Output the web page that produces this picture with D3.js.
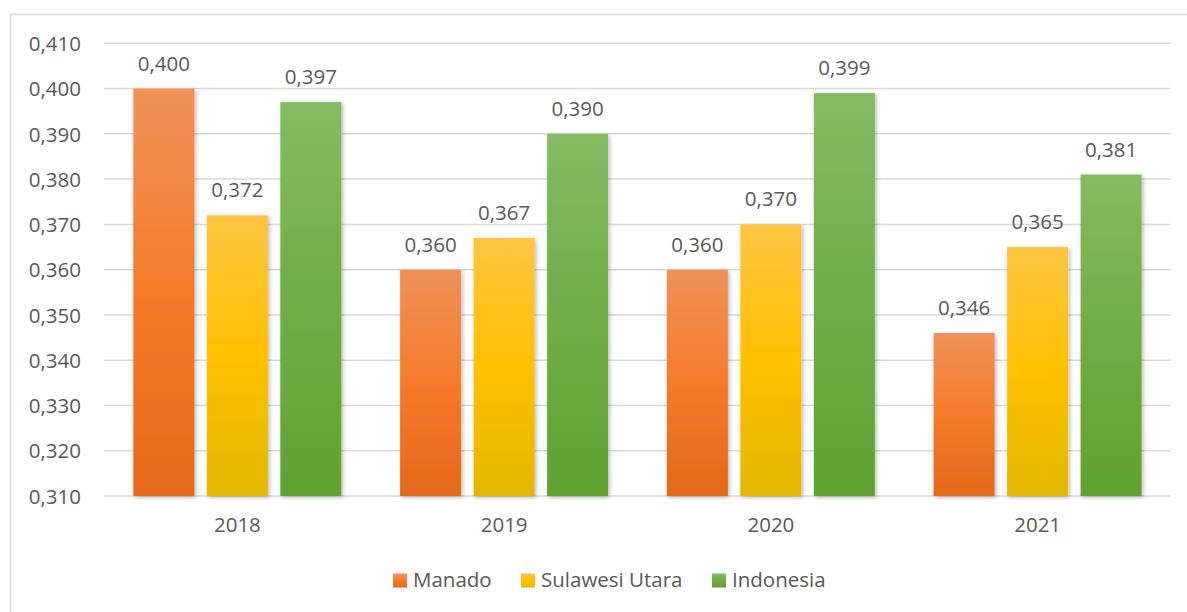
<!DOCTYPE html>
<html><head><meta charset="utf-8">
<script src="https://cdn.jsdelivr.net/npm/d3@7"></script>
<style>
html,body{margin:0;padding:0;background:#fff;}
text{font-family:"Open Sans","Noto Sans",sans-serif;fill:#595959;}
</style></head>
<body><svg id="c" width="1187" height="612"></svg>
<script>
const years = ["2018","2019","2020","2021"];
const seriesNames = ["Manado","Sulawesi Utara","Indonesia"];
const manado = [0.400,0.360,0.360,0.346];
const sulut = [0.372,0.367,0.370,0.365];
const indonesia = [0.397,0.390,0.399,0.381];
const yTicks = [0.310,0.320,0.330,0.340,0.350,0.360,0.370,0.380,0.390,0.400,0.410];
const seriesValues = [manado, sulut, indonesia];
const grads = [
  ["#F0915A","#F47B2A","#E3691B"],
  ["#FFC543","#FFC000","#E3B800"],
  ["#85BA62","#70AD47","#5FA232"]
];
const FS = "20.5px";

const svg = d3.select("#c");
const defs = svg.append("defs");
grads.forEach((g,i)=>{
  const lg = defs.append("linearGradient").attr("id","g"+i).attr("x1",0).attr("y1",0).attr("x2",0).attr("y2",1);
  lg.append("stop").attr("offset","0%").attr("stop-color",g[0]);
  lg.append("stop").attr("offset","50%").attr("stop-color",g[1]);
  lg.append("stop").attr("offset","100%").attr("stop-color",g[2]);
});
const f = defs.append("filter").attr("id","sh").attr("x","-20%").attr("y","-5%").attr("width","140%").attr("height","115%");
f.append("feDropShadow").attr("dx",1.5).attr("dy",1.5).attr("stdDeviation",2.2).attr("flood-color","#000").attr("flood-opacity",0.28);

// frame
svg.append("rect").attr("x",10.5).attr("y",14.5).attr("width",1200).attr("height",620)
  .attr("fill","none").attr("stroke","#D9D9D9").attr("stroke-width",1.5);

const pLeft=104, pRight=1171, pTop=43.3, pBottom=496;
const y = d3.scaleLinear().domain([0.310,0.410]).range([pBottom,pTop]);
const x0 = d3.scaleBand().domain(years).range([pLeft,pRight]).paddingInner(0).paddingOuter(0);
const x1 = d3.scaleBand().domain(seriesNames).range([0,208]).paddingInner(0.17).paddingOuter(0);
const groupOff = (x0.bandwidth()-208)/2;

// gridlines
svg.append("g").selectAll("line").data(yTicks).join("line")
  .attr("x1",pLeft).attr("x2",pRight)
  .attr("y1",d=>y(d)).attr("y2",d=>y(d))
  .attr("stroke","#D9D9D9").attr("stroke-width",1.5);

const fmt = v => d3.format(".3f")(v).replace(".",",");

// y axis labels
const yAxis = d3.axisLeft(y).tickValues(yTicks).tickFormat(fmt).tickSize(0).tickPadding(23);
const ya = svg.append("g").attr("transform",`translate(${pLeft},0)`).call(yAxis);
ya.select(".domain").remove();
ya.selectAll("text").style("font-size",FS).attr("fill","#595959").attr("font-family",null).attr("dy","0.35em");

// x axis labels
const xAxis = d3.axisBottom(x0).tickSize(0).tickPadding(21);
const xa = svg.append("g").attr("transform",`translate(0,${pBottom})`).call(xAxis);
xa.select(".domain").remove();
xa.selectAll("text").style("font-size",FS).attr("fill","#595959").attr("font-family",null);

// bars
years.forEach((yr,ci)=>{
  const g = svg.append("g").attr("transform",`translate(${x0(yr)+groupOff},0)`);
  const data = seriesNames.map((s,si)=>({s,si,v:seriesValues[si][ci]}));
  g.selectAll("rect").data(data).join("rect")
    .attr("x",d=>x1(d.s)).attr("width",x1.bandwidth())
    .attr("y",d=>y(d.v)).attr("height",d=>pBottom-y(d.v))
    .attr("fill",d=>`url(#g${d.si})`).attr("filter","url(#sh)");
  g.selectAll("text").data(data).join("text")
    .attr("x",d=>x1(d.s)+x1.bandwidth()/2).attr("y",d=>y(d.v)-18)
    .attr("text-anchor","middle").style("font-size",FS).text(d=>fmt(d.v));
});

// legend
const legX = [393,521,712];
const lgd = svg.append("g");
seriesNames.forEach((s,i)=>{
  lgd.append("rect").attr("x",legX[i]).attr("y",573.5).attr("width",14).attr("height",14).attr("fill",`url(#g${i})`);
  lgd.append("text").attr("x",legX[i]+20).attr("y",587).style("font-size",FS).text(s);
});
</script></body></html>
